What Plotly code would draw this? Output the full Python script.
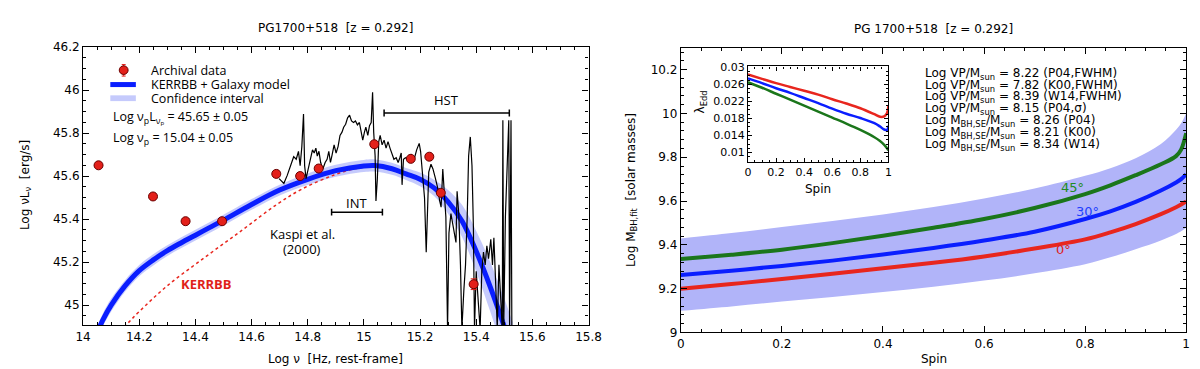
import plotly.graph_objects as go

# ---------------- LEFT PANEL DATA ----------------
arch_x = [14.055, 14.249, 14.365, 14.495, 14.688, 14.773, 14.839, 15.037, 15.167, 15.233, 15.274, 15.391]
arch_y = [45.65, 45.505, 45.39, 45.39, 45.61, 45.60, 45.635, 45.748, 45.68, 45.69, 45.522, 45.097]
arch_err = [0.008, 0.008, 0.008, 0.008, 0.015, 0.008, 0.008, 0.008, 0.008, 0.008, 0.008, 0.025]

model_x = [14.05, 14.07, 14.10, 14.15, 14.20, 14.25, 14.30, 14.35, 14.40, 14.45, 14.50, 14.60, 14.70,
           14.80, 14.90, 15.00, 15.04, 15.10, 15.15, 15.20, 15.25, 15.30, 15.35, 15.40, 15.45, 15.50, 15.53]
model_y = [44.87, 44.93, 45.00, 45.09, 45.16, 45.21, 45.253, 45.29, 45.325, 45.36, 45.395, 45.468, 45.535,
           45.585, 45.625, 45.647, 45.649, 45.634, 45.61, 45.585, 45.545, 45.48, 45.39, 45.25, 45.085, 44.90, 44.78]
band_hi = [44.90, 44.96, 45.03, 45.117, 45.186, 45.236, 45.278, 45.315, 45.35, 45.385, 45.42, 45.493, 45.56,
           45.612, 45.653, 45.675, 45.677, 45.662, 45.638, 45.617, 45.583, 45.535, 45.465, 45.345, 45.20, 45.03, 44.92]
band_lo = [44.84, 44.90, 44.97, 45.063, 45.134, 45.184, 45.228, 45.265, 45.30, 45.335, 45.37, 45.443, 45.51,
           45.558, 45.597, 45.619, 45.621, 45.606, 45.582, 45.553, 45.507, 45.425, 45.315, 45.155, 44.97, 44.77, 44.64]

kerrbb_x = [14.10, 14.152, 14.2, 14.3, 14.436, 14.57, 14.69, 14.78, 14.894, 14.97, 15.04]
kerrbb_y = [44.84, 44.906, 44.97, 45.09, 45.224, 45.352, 45.468, 45.54, 45.605, 45.635, 45.645]

spec_x = [14.698, 14.715, 14.727, 14.744, 14.750, 14.759, 14.767, 14.773, 14.779, 14.785, 14.789, 14.794,
          14.802, 14.810, 14.817, 14.823, 14.829, 14.834, 14.840, 14.846, 14.854, 14.862, 14.869, 14.875,
          14.881, 14.887, 14.894, 14.901, 14.908, 14.915, 14.922, 14.928, 14.935, 14.942, 14.949, 14.956,
          14.963, 14.970, 14.977, 14.984, 14.990, 14.996, 15.002, 15.007, 15.014, 15.020, 15.026, 15.031,
          15.035, 15.040, 15.043, 15.048, 15.053, 15.058, 15.065, 15.072, 15.079, 15.086, 15.093, 15.100,
          15.107, 15.115, 15.122, 15.128, 15.133, 15.136, 15.141, 15.148, 15.156, 15.168, 15.179, 15.188,
          15.197, 15.202, 15.208, 15.216, 15.222, 15.226, 15.231, 15.239, 15.246, 15.255, 15.263, 15.270,
          15.275, 15.281, 15.286, 15.292, 15.298, 15.303, 15.310, 15.318, 15.328, 15.332, 15.338, 15.344,
          15.349, 15.356, 15.362, 15.368, 15.373, 15.379, 15.385, 15.390, 15.394, 15.400, 15.405, 15.414,
          15.420, 15.426, 15.432, 15.438, 15.444, 15.452, 15.458, 15.463, 15.469, 15.475, 15.481, 15.487,
          15.493, 15.495, 15.498, 15.504, 15.510, 15.516, 15.519, 15.524, 15.527]
spec_y = [45.588, 45.566, 45.603, 45.663, 45.690, 45.678, 45.715, 45.648, 45.737, 45.889, 45.648, 45.588,
          45.633, 45.685, 45.722, 45.707, 45.730, 45.693, 45.715, 45.663, 45.633, 45.663, 45.678, 45.715,
          45.663, 45.700, 45.745, 45.707, 45.737, 45.789, 45.804, 45.827, 45.841, 45.871, 45.883, 45.856,
          45.849, 45.856, 45.838, 45.849, 45.797, 45.767, 45.804, 45.827, 45.789, 45.834, 45.849, 45.990,
          45.804, 45.693, 45.484, 45.588, 45.760, 45.789, 45.745, 45.767, 45.730, 45.760, 45.730, 45.700,
          45.678, 45.685, 45.663, 45.685, 45.707, 45.559, 45.678, 45.685, 45.678, 45.700, 45.678, 45.722,
          45.752, 45.715, 45.633, 45.499, 45.246, 45.455, 45.618, 45.655, 45.633, 45.588, 45.544, 45.484,
          45.455, 45.633, 45.514, 45.410, 44.889, 45.335, 45.425, 45.365, 45.291, 45.529, 45.425, 45.187,
          44.889, 45.068, 45.187, 45.410, 45.693, 45.782, 45.648, 45.365, 44.889, 45.157, 45.038, 44.889,
          45.157, 45.246, 45.187, 45.276, 45.216, 45.306, 45.187, 45.313, 45.112, 44.889, 45.187, 45.038,
          44.889, 45.859, 44.889, 45.410, 45.633, 45.859, 44.889, 45.859, 44.889]

hst_x = [15.072, 15.518]
hst_y = 45.893
int_x = [14.885, 15.066]
int_y = 45.432

legend_labels = ["Archival data", "KERRBB + Galaxy model", "Confidence interval"]

# ---------------- RIGHT PANEL DATA ----------------
spin = [0, 0.1, 0.2, 0.3, 0.4, 0.5, 0.6, 0.7, 0.8, 0.85, 0.9, 0.95, 0.98, 0.99, 1.0]
m_0deg = [9.200, 9.221, 9.244, 9.268, 9.293, 9.318, 9.347, 9.383, 9.425, 9.457, 9.495, 9.540, 9.572, 9.584, 9.598]
m_30deg = [9.262, 9.282, 9.304, 9.328, 9.356, 9.386, 9.420, 9.460, 9.518, 9.553, 9.596, 9.648, 9.685, 9.700, 9.722]
m_45deg = [9.335, 9.355, 9.378, 9.408, 9.442, 9.478, 9.518, 9.568, 9.632, 9.672, 9.718, 9.768, 9.805, 9.835, 9.910]
m_lo = [9.099, 9.119, 9.141, 9.162, 9.185, 9.209, 9.237, 9.270, 9.311, 9.343, 9.380, 9.420, 9.450, 9.462, 9.478]
m_hi = [9.429, 9.454, 9.481, 9.509, 9.539, 9.573, 9.612, 9.657, 9.715, 9.750, 9.795, 9.860, 9.925, 9.955, 10.000]

inset_spin = [0, 0.1, 0.2, 0.3, 0.4, 0.5, 0.6, 0.7, 0.8, 0.9, 0.94, 0.97, 0.99, 1.0]
edd_0deg = [0.0283, 0.0273, 0.0263, 0.0254, 0.0245, 0.0236, 0.0225, 0.0215, 0.0204, 0.0190, 0.0184, 0.0185, 0.0193, 0.0210]
edd_30deg = [0.0274, 0.0263, 0.0251, 0.0240, 0.0228, 0.0216, 0.0203, 0.0191, 0.0181, 0.0169, 0.0161, 0.0154, 0.0153, 0.0163]
edd_45deg = [0.0265, 0.0252, 0.0238, 0.0224, 0.0210, 0.0196, 0.0182, 0.0168, 0.0153, 0.0136, 0.0127, 0.0118, 0.0110, 0.0105]

mass_labels = [
    "Log VP/M<sub>sun</sub> = 8.22 (P04,FWHM)",
    "Log VP/M<sub>sun</sub> = 7.82 (K00,FWHM)",
    "Log VP/M<sub>sun</sub> = 8.39 (W14,FWHM)",
    "Log VP/M<sub>sun</sub> = 8.15 (P04,σ)",
    "Log M<sub>BH,SE</sub>/M<sub>sun</sub> = 8.26 (P04)",
    "Log M<sub>BH,SE</sub>/M<sub>sun</sub> = 8.21 (K00)",
    "Log M<sub>BH,SE</sub>/M<sub>sun</sub> = 8.34 (W14)",
]

W, H = 1200, 369
def px(x):
    return x / W
def py(y):
    return 1 - y / H

RED = "#e8261e"
BLUE = "#0a1eff"
GREEN = "#1b761b"
BAND_L = "rgba(150,158,250,0.55)"
PT_FILL = "#e3201a"
PT_EDGE = "#6a0000"
TF = "DejaVu Sans"

fig = go.Figure()

# left panel
fig.add_trace(go.Scatter(x=model_x, y=band_lo, mode="lines", line=dict(width=0, shape="spline"),
                         showlegend=False, hoverinfo="skip", xaxis="x", yaxis="y"))
fig.add_trace(go.Scatter(x=model_x, y=band_hi, mode="lines", line=dict(width=0, shape="spline"),
                         fill="tonexty", fillcolor=BAND_L, showlegend=False, xaxis="x", yaxis="y"))
fig.add_trace(go.Scatter(x=kerrbb_x, y=kerrbb_y, mode="lines",
                         line=dict(color=RED, width=1.5, dash="3px,3px", shape="spline"),
                         showlegend=False, xaxis="x", yaxis="y"))
fig.add_trace(go.Scatter(x=model_x, y=model_y, mode="lines", line=dict(color=BLUE, width=5, shape="spline"),
                         showlegend=False, xaxis="x", yaxis="y"))
fig.add_trace(go.Scatter(x=spec_x, y=spec_y, mode="lines", line=dict(color="black", width=1.2),
                         showlegend=False, xaxis="x", yaxis="y"))
cap = 0.016
for bx, by in ((hst_x, hst_y), (int_x, int_y)):
    fig.add_trace(go.Scatter(x=[bx[0], bx[0], None, bx[0], bx[1], None, bx[1], bx[1]],
                             y=[by - cap, by + cap, None, by, by, None, by - cap, by + cap],
                             mode="lines", line=dict(color="black", width=1.5),
                             showlegend=False, xaxis="x", yaxis="y"))
fig.add_trace(go.Scatter(x=arch_x, y=arch_y, mode="markers",
                         marker=dict(color=PT_FILL, size=9, line=dict(color=PT_EDGE, width=1)),
                         error_y=dict(type="data", array=arch_err, color=PT_FILL, thickness=1, width=3),
                         showlegend=False, xaxis="x", yaxis="y"))

# right panel
fig.add_trace(go.Scatter(x=spin, y=m_lo, mode="lines", line=dict(width=0, shape="spline"),
                         showlegend=False, xaxis="x2", yaxis="y2"))
fig.add_trace(go.Scatter(x=spin, y=m_hi, mode="lines", line=dict(width=0, shape="spline"),
                         fill="tonexty", fillcolor="#b1b4f9", showlegend=False, xaxis="x2", yaxis="y2"))
for yy, cc in ((m_0deg, RED), (m_30deg, BLUE), (m_45deg, GREEN)):
    fig.add_trace(go.Scatter(x=spin, y=yy, mode="lines", line=dict(color=cc, width=4, shape="spline"),
                             showlegend=False, xaxis="x2", yaxis="y2"))

# inset
for yy, cc in ((edd_0deg, RED), (edd_30deg, BLUE), (edd_45deg, GREEN)):
    fig.add_trace(go.Scatter(x=inset_spin, y=yy, mode="lines", line=dict(color=cc, width=2.5, shape="spline"),
                             showlegend=False, xaxis="x3", yaxis="y3"))

def axis(domain, rng, dtick, tick0, mdtick, anchor, fs=12, ticklen=6, mlen=3):
    return dict(domain=domain, range=rng, dtick=dtick, tick0=tick0, ticks="inside", ticklen=ticklen,
                tickcolor="black", showline=True, linecolor="black", linewidth=1.2, mirror="allticks",
                showgrid=False, zeroline=False, anchor=anchor,
                tickfont=dict(family=TF, size=fs, color="black"),
                minor=dict(dtick=mdtick, tick0=tick0, ticks="inside", ticklen=mlen, tickcolor="black", showgrid=False))

# legend keys (left panel), drawn as shapes in paper coordinates
shapes = [
    dict(type="line", xref="paper", yref="paper", x0=px(109.6), x1=px(109.6), y0=py(51.5), y1=py(63.5),
         line=dict(color=PT_FILL, width=1)),
    dict(type="line", xref="paper", yref="paper", x0=px(107.6), x1=px(111.6), y0=py(51.5), y1=py(51.5),
         line=dict(color=PT_FILL, width=1)),
    dict(type="line", xref="paper", yref="paper", x0=px(107.6), x1=px(111.6), y0=py(63.5), y1=py(63.5),
         line=dict(color=PT_FILL, width=1)),
    dict(type="circle", xref="paper", yref="paper", x0=px(105.1), x1=px(114.1), y0=py(61.8), y1=py(52.8),
         fillcolor=PT_FILL, line=dict(color=PT_EDGE, width=1)),
    dict(type="line", xref="paper", yref="paper", x0=px(96), x1=px(122), y0=py(72.3), y1=py(72.3),
         line=dict(color=BLUE, width=5)),
    dict(type="rect", xref="paper", yref="paper", x0=px(96), x1=px(122), y0=py(89.5), y1=py(83.5),
         fillcolor=BAND_L, line=dict(width=0)),
]

fig.update_layout(
    width=W, height=H, margin=dict(l=0, r=0, t=0, b=0),
    paper_bgcolor="white", plot_bgcolor="white", showlegend=False,
    xaxis=axis([px(68.3), px(582.7)], [14, 15.8], 0.2, 14, 0.05, "y"),
    yaxis=axis([py(322.5), py(33.3)], [44.906, 46.2], 0.2, 45, 0.05, "x"),
    xaxis2=axis([px(676.7), px(1191)], [0, 1], 0.2, 0, 0.04, "y2"),
    yaxis2=axis([py(330), py(34)], [9, 10.3], 0.2, 9, 0.04, "x2"),
    xaxis3=axis([px(745), px(888)], [0, 1], 0.2, 0, 0.05, "y3", fs=11, ticklen=4, mlen=2),
    yaxis3=axis([py(152.7), py(53.5)], [0.0078, 0.0302], 0.004, 0.01, 0.001, "x3", fs=11, ticklen=4, mlen=2),
    shapes=shapes,
)

ann = []
def A(text, x, y, xref="paper", yref="paper", size=12, color="black", family=TF, xanchor="center",
      yanchor="middle", angle=0):
    ann.append(dict(text=text, x=x, y=y, xref=xref, yref=yref, showarrow=False, textangle=angle,
                    font=dict(family=family, size=size, color=color), xanchor=xanchor, yanchor=yanchor))

A("PG1700+518  [z = 0.292]", px(325.5), py(13))
A("PG 1700+518  [z = 0.292]", px(934), py(15))
A("Log ν  [Hz, rest-frame]", px(325.5), py(358))
A("Spin", px(934), py(358))
A("Log νL<sub>ν</sub>  [erg/s]", px(10), py(177), angle=-90)
A("Log M<sub>BH,fit</sub>  [solar masses]", px(627), py(182), angle=-90)
A("λ<sub>Edd</sub>", px(697), py(90), angle=-90, size=12)
A("Spin", px(816), py(181), size=12)

for i, t in enumerate(legend_labels):
    A(t, px(135), py(57.3 + i * 14.8), size=12.5, family="Open Sans", xanchor="left")

A("Log ν<sub>p</sub>L<sub>ν<sub>p</sub></sub> = 45.65 ± 0.05", 14.098, 45.87, "x", "y", 12.5, family="Open Sans", xanchor="left")
A("Log ν<sub>p</sub> = 15.04 ± 0.05", 14.098, 45.776, "x", "y", 12.5, family="Open Sans", xanchor="left")
A("HST", 15.295, 45.955, "x", "y", 13, family="Open Sans")
A("INT", 14.975, 45.475, "x", "y", 13, family="Open Sans")
A("Kaspi et al.", 14.78, 45.33, "x", "y", 13, family="Open Sans")
A("(2000)", 14.78, 45.262, "x", "y", 13, family="Open Sans")
A("<b>KERRBB</b>", 14.44, 45.097, "x", "y", 13, color="#e01f1a", family="Open Sans")

A("45°", 0.775, 9.663, "x2", "y2", 13, color="#228b22")
A("30°", 0.805, 9.553, "x2", "y2", 13, color="#1f3fff")
A("0°", 0.758, 9.378, "x2", "y2", 13, color="#dd2020")

for i, t in enumerate(mass_labels):
    A(t, px(923), py(61 + i * 12.35), size=12, xanchor="left")

fig.update_layout(annotations=ann)
fig.write_html("out.html")
